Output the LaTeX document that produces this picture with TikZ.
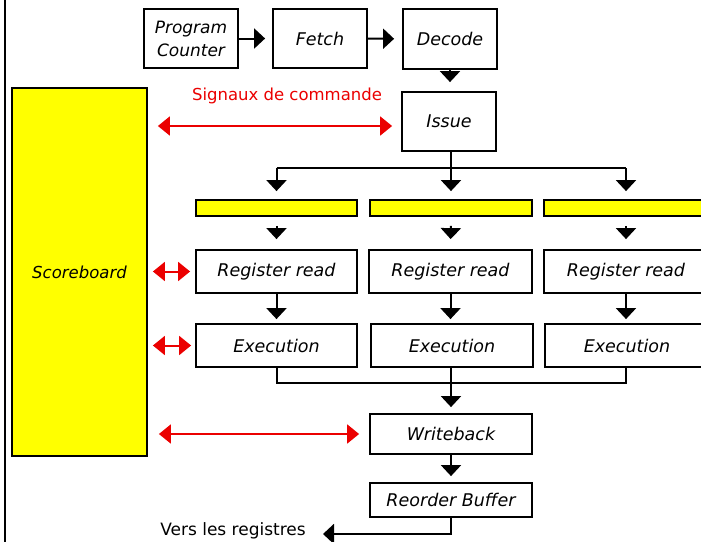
\documentclass[tikz,border=0pt]{standalone}
\usepackage{fontspec}
\setmainfont{DejaVu Sans}
\usetikzlibrary{arrows.meta}
\definecolor{sbyellow}{RGB}{255,255,0}
\definecolor{sigred}{RGB}{235,0,0}
\begin{document}
\begin{tikzpicture}[x=1pt,y=-1pt,
  box/.style={draw=black, line width=1.8pt, fill=white, inner sep=0pt,
    font=\fontsize{17.5}{22}\selectfont\itshape, align=center},
  ybar/.style={draw=black, line width=1.8pt, fill=sbyellow, inner sep=0pt},
  wire/.style={line width=2pt},
  flow/.style={line width=2pt, -{Triangle[width=20pt,length=11pt]}},
  sig/.style={draw=sigred, line width=2pt,
    {Triangle[width=19pt,length=12pt]}-{Triangle[width=19pt,length=12pt]}},
]
\clip (0,0) rectangle (701,541);
\fill[white] (0,0) rectangle (701,541);

% left frame line
\draw[line width=2pt] (5,-2) -- (5,545);

% front end
\node[box, minimum width=94pt, minimum height=59pt,
  font=\fontsize{17}{23}\selectfont\itshape] (pc) at (191,38.5) {Program\\Counter};
\node[box, minimum width=94pt, minimum height=59pt] (fetch) at (320,38.5) {Fetch};
\node[box, minimum width=94pt, minimum height=60pt] (decode) at (450,39) {Decode};
\node[box, minimum width=94pt, minimum height=59pt] (issue) at (449,121.5) {Issue};

\draw[flow, shorten >=7pt] (pc) -- (fetch);
\draw[flow, shorten >=8pt] (fetch) -- (decode);
\draw[flow, shorten >=9pt] (decode.south) -- (decode.south |- issue.north);

% scoreboard
\node[ybar, minimum width=135pt, minimum height=368pt,
  font=\fontsize{16.5}{20}\selectfont\itshape] (sb) at (79.5,272) {Scoreboard};

% dispatch to the three pipelines
\coordinate (d1) at (276.5,168);
\coordinate (d2) at (451,168);
\coordinate (d3) at (626,168);
\draw[wire] (issue.south -| d2) -- (d2);
\draw[wire] (d1) -- (d3);

\node[ybar, minimum width=161pt, minimum height=16pt] (bar1) at (276.5,208) {};
\node[ybar, minimum width=162pt, minimum height=16pt] (bar2) at (451,208) {};
\node[ybar, minimum width=164pt, minimum height=16pt] (bar3) at (626,208) {};

\foreach \i in {1,2,3}
  \draw[flow, shorten >=8pt] (d\i) -- (bar\i.north);

\node[box, minimum width=161pt, minimum height=43pt] (rr1) at (276.5,271.5) {Register read};
\node[box, minimum width=163pt, minimum height=43pt] (rr2) at (450.5,271.5) {Register read};
\node[box, minimum width=164pt, minimum height=43pt] (rr3) at (626,271.5) {Register read};

\node[box, minimum width=161pt, minimum height=43pt] (ex1) at (276.5,345.5) {Execution};
\node[box, minimum width=162pt, minimum height=43pt] (ex2) at (452,345.5) {Execution};
\node[box, minimum width=164pt, minimum height=43pt] (ex3) at (627,345.5) {Execution};

\foreach \i in {1,2,3}{
  \draw[flow, shorten <=9pt, shorten >=10pt] (bar\i.south) -- (rr\i.north);
  \draw[flow, shorten >=4pt] (rr\i.south) -- (rr\i.south |- ex\i.north);
}

% gather the results
\coordinate (g1) at (276.5,383);
\coordinate (g2) at (451,383);
\coordinate (g3) at (626,383);
\draw[wire] (ex1.south -| g1) -- (g1) -- (g3) -- (ex3.south -| g3);
\draw[wire] (ex2.south -| g2) -- (g2);

\node[box, minimum width=162pt, minimum height=40pt] (wb) at (451,434) {Writeback};
\node[box, minimum width=162pt, minimum height=34pt] (rob) at (451,500) {Reorder Buffer};

\draw[flow, shorten >=6pt] (g2) -- (wb.north);
\draw[flow, shorten >=6pt] (wb.south) -- (rob.north);

% retirement towards the register file
\node[font=\fontsize{17}{20}\selectfont, anchor=east, inner sep=0pt] (vers) at (306,531) {Vers les registres};
\coordinate (out) at (323,534);
\draw[flow] (rob.south) |- (out);

% control signals exchanged with the scoreboard
\node[text=sigred, font=\fontsize{16.5}{20}\selectfont] (sigl) at (287,96) {Signaux de commande};
\draw[sig, shorten <=10pt, shorten >=9pt] ([yshift=-4.5pt]issue.west -| sb.east) -- ([yshift=-4.5pt]issue.west);
\draw[sig, shorten <=5pt, shorten >=5pt] (rr1.west -| sb.east) -- (rr1.west);
\draw[sig, shorten <=5pt, shorten >=4pt] (ex1.west -| sb.east) -- (ex1.west);
\draw[sig, shorten <=11pt, shorten >=10pt] (wb.west -| sb.east) -- (wb.west);
\end{tikzpicture}
\end{document}
